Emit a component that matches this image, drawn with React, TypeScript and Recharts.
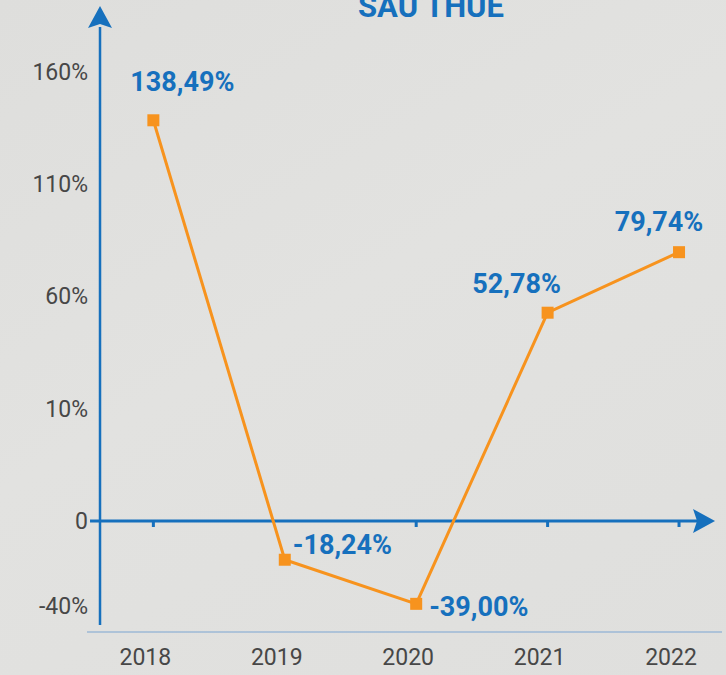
import React from 'react';
import { LineChart, Line, XAxis, YAxis, ReferenceLine, ReferenceDot, LabelList } from 'recharts';

// ---- data ----
const years = ['2018', '2019', '2020', '2021', '2022'];
const growth = [138.49, -18.24, -39.0, 52.78, 79.74];
const tickValues = [-40, 0, 10, 60, 110, 160];
const tickLabels = ['-40%', '0', '10%', '60%', '110%', '160%'];
const title = 'SAU THUẾ';
const zeroTickYears = ['2018', '2020', '2021', '2022'];

// ---- label styling (offsets per point, not data) ----
const labelDx = [29, 8, 13, -31, -20];
const labelDy = [-29, -6, 12, -20, -21];

// ---- axis layout (the reference axis is not linear: ticks are evenly spaced) ----
const tickUnits = [-0.757, 0, 1, 2, 3, 4];
const toUnits = (v: number) => {
  const n = tickValues.length;
  let k = 0;
  while (k < n - 2 && v > tickValues[k + 1]) k++;
  const t = (v - tickValues[k]) / (tickValues[k + 1] - tickValues[k]);
  return tickUnits[k] + t * (tickUnits[k + 1] - tickUnits[k]);
};

const BLUE = '#1670bd';
const ORANGE = '#f7931e';
const FONT = 'Roboto, "Noto Sans", sans-serif';

const data = years.map((y, i) => ({ i, year: y, value: growth[i] }));

const fmt = (v: number) => v.toFixed(2).replace('.', ',') + '%';

const XTick = (props: any) => {
  const { x, y, payload } = props;
  return (
    <text x={x - 8} y={y + 33} textAnchor="middle" fontFamily={FONT} fontSize={23} fill="#474747">
      {years[payload.value]}
    </text>
  );
};

const YTick = (props: any) => {
  const { x, y, payload } = props;
  const idx = tickUnits.indexOf(payload.value);
  return (
    <text x={x + 1} y={y + 8} textAnchor="end" fontFamily={FONT} fontSize={23} fill="#474747">
      {tickLabels[idx]}
    </text>
  );
};

const SquareDot = (props: any) => {
  const { cx, cy, index } = props;
  if (cx == null || cy == null) return <g key={index} />;
  return <rect key={index} x={cx - 6} y={cy - 6} width={12} height={12} fill={ORANGE} />;
};

const PointLabel = (props: any) => {
  const { x, y, value } = props;
  const v = Number(value);
  const idx = growth.indexOf(v);
  return (
    <text
      x={x + labelDx[idx]}
      y={y + labelDy[idx]}
      textAnchor={v >= 0 ? 'middle' : 'start'}
      fontFamily={FONT}
      fontSize={27}
      fontWeight={700}
      fill={BLUE}
    >
      {fmt(v)}
    </text>
  );
};

const UpArrow = (props: any) => {
  const { cx, cy } = props;
  return <path d={`M${cx},${cy} L${cx + 12},${cy + 22} L${cx},${cy + 18} L${cx - 12},${cy + 22} Z`} fill={BLUE} />;
};

const RightArrow = (props: any) => {
  const { cx, cy } = props;
  return <path d={`M${cx},${cy} L${cx - 22},${cy + 12} L${cx - 18},${cy} L${cx - 22},${cy - 12} Z`} fill={BLUE} />;
};

const ZeroTick = (props: any) => {
  const { cx, cy } = props;
  return <rect x={cx - 1.5} y={cy} width={3} height={6} fill={BLUE} />;
};

export default function App() {
  return (
    <div
      style={{
        position: 'absolute',
        left: 0,
        top: 0,
        width: 726,
        height: 675,
        overflow: 'hidden',
        background: 'linear-gradient(150deg, #dededc 0%, #e2e2e0 45%, #dfdfdd 100%)',
      }}
    >
      <div
        style={{
          position: 'absolute',
          left: 281,
          top: -9,
          width: 300,
          textAlign: 'center',
          fontFamily: FONT,
          fontWeight: 700,
          fontSize: 31,
          lineHeight: '32px',
          color: BLUE,
        }}
      >
        {title}
      </div>
      <div style={{ position: 'absolute', left: 0, top: 0 }}>
        <LineChart width={726} height={675} data={data} margin={{ top: 6, right: 4, bottom: 0, left: 0 }}>
          <XAxis
            type="number"
            dataKey="i"
            domain={[-0.505, 4.327]}
            ticks={[0, 1, 2, 3, 4]}
            allowDataOverflow
            height={43}
            tickLine={false}
            tickSize={0}
            tickMargin={0}
            axisLine={{ stroke: '#9cb8d6', strokeWidth: 1.5 }}
            tick={<XTick />}
          />
          <YAxis
            type="number"
            domain={[-0.989, 4.588]}
            ticks={tickUnits}
            allowDataOverflow
            width={87}
            axisLine={false}
            tickLine={false}
            tickSize={0}
            tickMargin={0}
            tick={<YTick />}
          />
          <ReferenceLine
            segment={[{ x: -0.406, y: -0.927 }, { x: -0.406, y: 4.4 }]}
            stroke={BLUE}
            strokeWidth={2.5}
            ifOverflow="visible"
          />
          <ReferenceLine
            segment={[{ x: -0.482, y: 0 }, { x: 4.2, y: 0 }]}
            stroke={BLUE}
            strokeWidth={3}
            ifOverflow="visible"
          />
          {zeroTickYears.map((yr) => (
            <ReferenceDot key={yr} x={years.indexOf(yr)} y={0} ifOverflow="visible" shape={<ZeroTick />} />
          ))}
          <ReferenceDot x={-0.406} y={4.588} ifOverflow="visible" shape={<UpArrow />} />
          <ReferenceDot x={4.274} y={0} ifOverflow="visible" shape={<RightArrow />} />
          <Line
            dataKey={(d: any) => toUnits(d.value)}
            stroke={ORANGE}
            strokeWidth={3}
            type="linear"
            dot={SquareDot}
            activeDot={false}
            isAnimationActive={false}
          >
            <LabelList dataKey="value" content={<PointLabel />} />
          </Line>
        </LineChart>
      </div>
    </div>
  );
}
